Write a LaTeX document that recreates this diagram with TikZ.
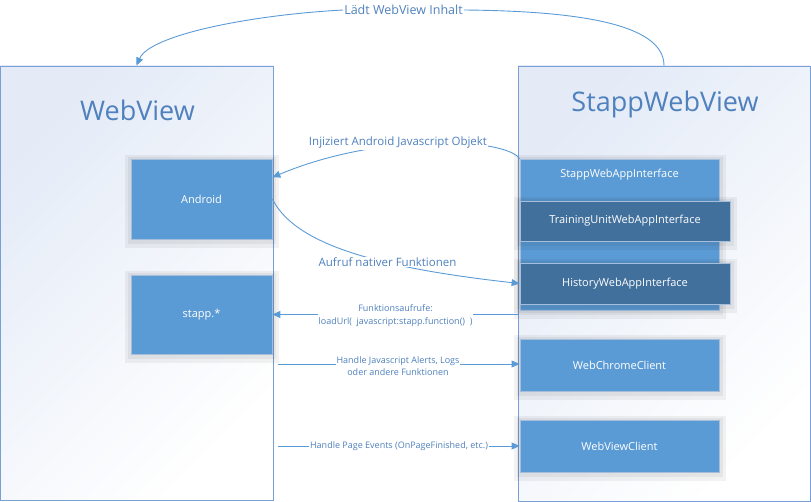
\documentclass[tikz,border=0pt]{standalone}
\usepackage{fontspec}
\setmainfont{Open Sans}
\usetikzlibrary{arrows.meta}
\definecolor{boxblue}{RGB}{91,155,213}
\definecolor{darkblue}{RGB}{65,112,156}
\definecolor{lineblue}{RGB}{91,155,213}
\definecolor{textblue}{RGB}{79,129,189}
\definecolor{frameblue}{RGB}{120,160,212}
\definecolor{shadetop}{RGB}{228,235,247}
\definecolor{edgeblue}{RGB}{165,190,220}
\begin{document}
\begin{tikzpicture}[x=1pt,y=-1pt]
\tikzstyle{frame}=[draw=frameblue, line width=0.9pt, top color=shadetop, bottom color=white, shading angle=45, inner sep=0pt]
\tikzstyle{title}=[text=textblue, font=\fontsize{27}{32}\selectfont, text height=20pt, text depth=6pt, inner sep=0pt]
\tikzstyle{glow}=[preaction={draw=black, draw opacity=0.05, line width=13pt, transform canvas={yshift=-2.5pt}}, preaction={draw=black, draw opacity=0.05, line width=7pt, transform canvas={yshift=-1.5pt}}]
\tikzstyle{itext}=[text=white, font=\fontsize{11}{13}\selectfont]
\tikzstyle{ibox}=[glow, itext, fill=boxblue, draw=edgeblue, line width=0.8pt, inner sep=0pt]
\tikzstyle{dbox}=[ibox, fill=darkblue]
\tikzstyle{lbl}=[text=textblue, font=\fontsize{11.5}{13}\selectfont, inner sep=1pt]
\tikzstyle{slbl}=[lbl, font=\fontsize{9}{12.5}\selectfont, fill=white, align=center]
\tikzstyle{link}=[draw=lineblue, line width=0.9pt, -{Triangle[length=8pt,width=7pt]}]
\useasboundingbox (0,0) rectangle (811,502);
\node[frame, minimum width=273pt, minimum height=434pt] (wv) at (136.5,283) {};
\node[frame, minimum width=292pt, minimum height=435pt] (sv) at (664,283.5) {};
\node[title] (wvt) at (137.5,114) {WebView};
\node[title] (svt) at (665,105) {StappWebView};
\node[ibox, minimum width=141pt, minimum height=80pt] (and) at (201.5,199) {Android};
\node[ibox, minimum width=141pt, minimum height=79pt] (stp) at (201.5,314.5) {stapp.*};
\node[ibox, minimum width=199pt, minimum height=151pt, label={[itext, anchor=center, yshift=-16pt]north:StappWebAppInterface}] (sai) at (619.5,234.5) {};
\node[dbox, minimum width=210pt, minimum height=40pt] (tui) at (625,221) {TrainingUnitWebAppInterface};
\node[dbox, minimum width=210pt, minimum height=41pt] (hwi) at (625,283.5) {HistoryWebAppInterface};
\node[ibox, minimum width=199pt, minimum height=52pt] (wcc) at (619.5,365) {WebChromeClient};
\node[ibox, minimum width=199pt, minimum height=52pt] (wvc) at (619.5,446) {WebViewClient};
\node[lbl, font=\fontsize{12.5}{14}\selectfont] (lade) at (403.5,10) {Lädt WebView Inhalt};
\draw[link] (sv.north) .. controls (664,22) and (570,11) .. (lade.east) (lade.west) .. controls (250,15) and (150,35) .. (wv.north);
\draw[link] (sai.north west) .. controls (505,138) and (380,132) .. (and.17);
\node[lbl, fill=white] (inj) at (398,143) {Injiziert Android Javascript Objekt};
\draw[link] (and.east) .. controls (295,245) and (380,268) .. (hwi.west);
\node[lbl, fill=white] (auf) at (387.5,262) {Aufruf nativer Funktionen};
\draw[link] (sv.west |- stp.east) -- (stp.east);
\node[slbl] (fkt) at (395.5,315.5) {Funktionsaufrufe:\\loadUrl(\ \ javascript:stapp.function()\ \ )};
\coordinate (hj) at (278,364);
\draw[link] (hj) -- (hj -| wcc.west);
\node[slbl] (hja) at (398,366) {Handle Javascript Alerts, Logs\\oder andere Funktionen};
\coordinate (hp) at (278,446);
\draw[link] (hp) -- (wvc.west);
\node[slbl] (hpe) at (399,446) {Handle Page Events (OnPageFinished, etc.)};
\end{tikzpicture}
\end{document}
